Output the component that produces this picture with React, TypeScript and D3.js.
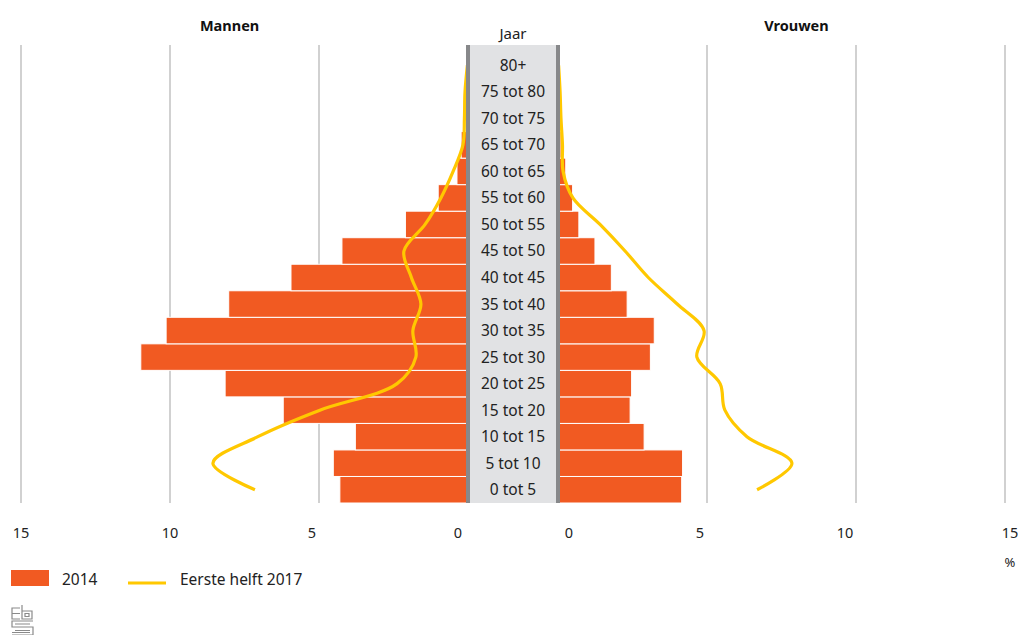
import * as d3 from 'd3'
import { useEffect, useRef } from 'react'

// leeftijdsgroepen, van jong naar oud
const ageGroups = [
  '0 tot 5', '5 tot 10', '10 tot 15', '15 tot 20', '20 tot 25', '25 tot 30',
  '30 tot 35', '35 tot 40', '40 tot 45', '45 tot 50', '50 tot 55', '55 tot 60',
  '60 tot 65', '65 tot 70', '70 tot 75', '75 tot 80', '80+',
]
// % per groep
const men2014 = [4.3, 4.52, 3.78, 6.2, 8.15, 10.98, 10.13, 8.03, 5.94, 4.23, 2.1, 1.0, 0.37, 0.23, 0.05, 0.03, 0]
const women2014 = [4.15, 4.18, 2.89, 2.42, 2.47, 3.1, 3.23, 2.32, 1.79, 1.24, 0.7, 0.49, 0.26, 0.1, 0.03, 0.02, 0]
const men2017 = [7.15, 8.56, 7.05, 4.97, 2.38, 1.75, 1.85, 1.58, 1.9, 2.15, 1.44, 0.91, 0.5, 0.17, 0.12, 0.1, 0.02]
const women2017 = [6.68, 7.85, 6.34, 5.6, 5.44, 4.66, 4.9, 4.0, 3.03, 2.25, 1.41, 0.5, 0.17, 0.15, 0.1, 0.07, 0.02]
const tickValues = [0, 5, 10, 15]
const seriesNames = ['2014', 'Eerste helft 2017']

const ORANGE = '#F15A22'
const YELLOW = '#FFC800'
const FONT = '"Noto Sans", sans-serif'

export default function App() {
  const ref = useRef<SVGSVGElement>(null)

  useEffect(() => {
    if (!ref.current) return
    const width = 1018
    const height = 635

    const xL = d3.scaleLinear().domain([0, 15]).range([468, 21])
    const xR = d3.scaleLinear().domain([0, 15]).range([558, 1005])
    const y = d3.scaleBand<string>()
      .domain(ageGroups.slice().reverse())
      .range([52, 503])
      .padding(0)
    const top = 45
    const bottom = 503
    const mid = (xL(0) + xR(0)) / 2

    const svg = d3.select(ref.current)
      .attr('width', width)
      .attr('height', height)
      .style('font-family', FONT)

    const g = svg.append('g')

    // rasterlijnen
    const grid = tickValues.filter(v => v > 0)
    g.selectAll('line.gl').data(grid).enter().append('line')
      .attr('x1', d => xL(d)).attr('x2', d => xL(d))
      .attr('y1', top).attr('y2', bottom)
      .attr('stroke', '#a3a3a3').attr('stroke-width', 1)
    g.selectAll('line.gr').data(grid).enter().append('line')
      .attr('x1', d => xR(d)).attr('x2', d => xR(d))
      .attr('y1', top).attr('y2', bottom)
      .attr('stroke', '#a3a3a3').attr('stroke-width', 1)

    // balken 2014
    g.selectAll('rect.m').data(ageGroups).enter().append('rect')
      .attr('x', (_d, i) => xL(men2014[i]))
      .attr('y', d => y(d)!)
      .attr('width', (_d, i) => xL(0) - xL(men2014[i]))
      .attr('height', y.bandwidth())
      .attr('fill', ORANGE)
      .attr('stroke', '#fff').attr('stroke-width', 1)
    g.selectAll('rect.v').data(ageGroups).enter().append('rect')
      .attr('x', xR(0))
      .attr('y', d => y(d)!)
      .attr('width', (_d, i) => xR(women2014[i]) - xR(0))
      .attr('height', y.bandwidth())
      .attr('fill', ORANGE)
      .attr('stroke', '#fff').attr('stroke-width', 1)

    // lijnen 2017
    const cy = (d: string) => y(d)! + y.bandwidth() / 2
    const lineL = d3.line<string>()
      .x((_d, i) => xL(men2017[i]))
      .y(d => cy(d))
      .curve(d3.curveCatmullRom.alpha(0.5))
    const lineR = d3.line<string>()
      .x((_d, i) => xR(women2017[i]))
      .y(d => cy(d))
      .curve(d3.curveCatmullRom.alpha(0.5))
    g.append('path').attr('d', lineL(ageGroups)!)
      .attr('fill', 'none').attr('stroke', YELLOW).attr('stroke-width', 3.2)
    g.append('path').attr('d', lineR(ageGroups)!)
      .attr('fill', 'none').attr('stroke', YELLOW).attr('stroke-width', 3.2)

    // middenband met leeftijden
    g.append('rect')
      .attr('x', xL(0) - 2).attr('y', top)
      .attr('width', xR(0) - xL(0) + 4).attr('height', bottom - top)
      .attr('fill', '#e1e2e4')
    ;[xL(0), xR(0)].forEach(x => {
      g.append('line')
        .attr('x1', x).attr('x2', x).attr('y1', top).attr('y2', bottom)
        .attr('stroke', '#87888a').attr('stroke-width', 4)
    })
    g.selectAll('text.age').data(ageGroups).enter().append('text')
      .attr('x', mid)
      .attr('y', d => cy(d) + 5.5)
      .attr('text-anchor', 'middle')
      .attr('font-size', 15.5)
      .attr('fill', '#222')
      .text(d => d)

    g.append('text').attr('x', mid).attr('y', 39)
      .attr('text-anchor', 'middle').attr('font-size', 15).attr('fill', '#222')
      .text('Jaar')
    g.append('text').attr('x', xL(8)).attr('y', 31)
      .attr('text-anchor', 'middle').attr('font-size', 14.5)
      .attr('font-weight', 'bold').attr('fill', '#111')
      .text('Mannen')
    g.append('text').attr('x', xR(8)).attr('y', 31)
      .attr('text-anchor', 'middle').attr('font-size', 14.5)
      .attr('font-weight', 'bold').attr('fill', '#111')
      .text('Vrouwen')

    // as-labels
    g.selectAll('text.tl').data(tickValues).enter().append('text')
      .attr('x', d => xL(d) + (d === 0 ? -10 : d === 5 ? -7 : 0))
      .attr('y', 538)
      .attr('text-anchor', 'middle').attr('font-size', 14.5).attr('fill', '#222')
      .text(d => d)
    g.selectAll('text.tr').data(tickValues).enter().append('text')
      .attr('x', d => xR(d) + (d === 0 ? 11 : d === 5 ? -7 : d === 10 ? -11 : 5))
      .attr('y', 538)
      .attr('text-anchor', 'middle').attr('font-size', 14.5).attr('fill', '#222')
      .text(d => d)
    g.append('text').attr('x', 1010).attr('y', 567)
      .attr('text-anchor', 'middle').attr('font-size', 13).attr('fill', '#222')
      .text('%')

    // legenda
    g.append('rect').attr('x', 11).attr('y', 570).attr('width', 38).attr('height', 16)
      .attr('fill', ORANGE)
    g.append('text').attr('x', 62).attr('y', 585).attr('font-size', 15.5).attr('fill', '#222')
      .text(seriesNames[0])
    g.append('line').attr('x1', 128).attr('x2', 166).attr('y1', 583).attr('y2', 583)
      .attr('stroke', YELLOW).attr('stroke-width', 3.2)
    g.append('text').attr('x', 180).attr('y', 585).attr('font-size', 15.5).attr('fill', '#222')
      .text(seriesNames[1])

    // cbs-logo (ruwe benadering)
    const logo = g.append('g').attr('fill', 'none').attr('stroke', '#8a8a8a').attr('stroke-width', 1.2)
    logo.append('path').attr('d', 'M20 608 H12 V619 H20 M12 613.5 H20')
    logo.append('path').attr('d', 'M22 605 V619 H32 V611 H22 M25 613.5 H29 V616.5 H25 Z')
    logo.append('path').attr('d', 'M33 621 H12 V627 H33 V635 H12 M15 624 H30 M15 630.5 H30 M12 632.5 H30')

    return () => {
      svg.selectAll('*').remove()
    }
  }, [])

  return (
    <div style={{ position: 'absolute', left: 0, top: 0 }}>
      <svg ref={ref} style={{ display: 'block' }} />
    </div>
  )
}
